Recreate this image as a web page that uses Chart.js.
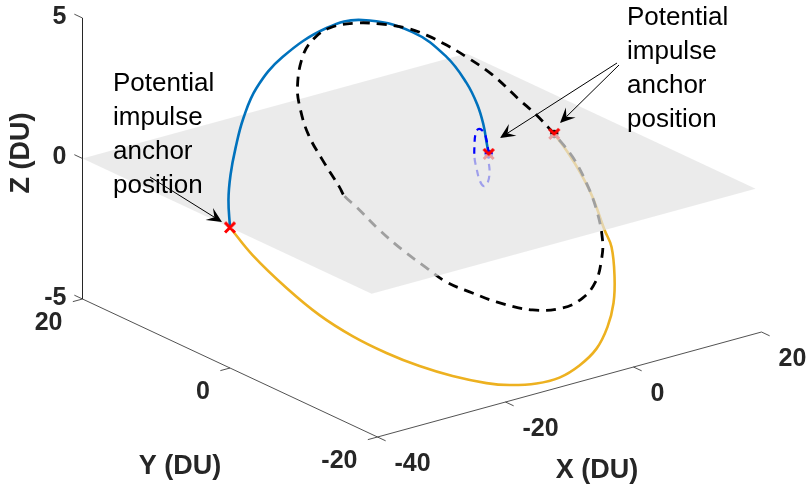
<!DOCTYPE html>
<html lang="en">
<head>
<meta charset="UTF-8" />
<title>Impulse anchor positions</title>
<style>
  body { margin: 0; background: #fff; }
  canvas { display: block; }
</style>
</head>
<body>
<canvas id="orbitChart" width="808" height="494"></canvas>
<script src="https://cdn.jsdelivr.net/npm/chart.js"></script>
<script>
// axis ticks (DU)
const xTicks = [-40, -20, 0, 20];
const yTicks = [-20, 0, 20];
const zTicks = [-5, 0, 5];

// z = 0 plane extent
const planeX = [-40, 20];
const planeY = [-19.2, 20];

// solid blue arc (above the plane)
const blueX = [-40, -39.03, -37.65, -35.75, -33.30, -30.12, -25.02, -17.40, -11.86, -5.16, -1.34, 0.42, 1.05, 1.05, 0.75, 1.0];
const blueY = [0, 1.05, 1.97, 2.94, 3.99, 4.98, 5.88, 6.52, 6.45, 5.49, 4.19, 3.01, 2.07, 1.25, 0.58, 0.5];
const blueZ = [0, 0.79, 1.48, 2.20, 2.99, 3.74, 4.41, 4.89, 4.84, 4.11, 3.15, 2.26, 1.55, 0.94, 0.43, 0];

// solid orange arc (below the plane)
const orangeX = [-40, -39.45, -37.87, -35.90, -33.40, -30.41, -27.19, -23.71, -19.84, -16.98, -13.28, -9.71, -6.01, -2.26, 1.09, 4.00, 6.43, 8.68, 9.26, 10.58, 11.12, 11.25, 11.7];
const orangeY = [0, -2.58, -5.82, -8.58, -10.88, -12.89, -14.58, -16.04, -17.29, -17.92, -18.37, -18.39, -17.89, -16.95, -15.53, -13.82, -11.85, -9.49, -8.04, -5.26, -3.17, -1.29, 0.9];
const orangeZ = [0, -0.70, -1.57, -2.32, -2.94, -3.48, -3.94, -4.33, -4.67, -4.84, -4.96, -4.97, -4.83, -4.58, -4.19, -3.73, -3.20, -2.56, -2.17, -1.42, -0.86, -0.35, 0];

// dashed black orbit (closed)
const blackX = [11.7, 9.20, 7.45, 4.72, 1.80, -0.52, -2.94, -5.49, -9.19, -12.44, -16.55, -19.55, -21.76, -23.86, -24.48, -24.47, -23.62, -22.41, -22.1, -20.88, -18.63, -16.24, -13.62, -11.38, -8.15, -5.12, -0.30, 4.09, 7.43, 10.03, 11.90, 12.96, 13.48, 13.27, 12.46, 11.7];
const blackY = [0.9, 1.14, 1.92, 3.21, 4.21, 4.91, 5.52, 6.02, 6.47, 6.76, 6.85, 6.56, 5.99, 4.86, 3.91, 2.83, 1.68, 0.42, 0, -0.56, -1.73, -2.77, -3.75, -4.52, -5.24, -5.86, -6.57, -6.82, -6.64, -6.14, -5.33, -4.55, -3.29, -2.11, -0.92, 0.9];
const blackZ = [0, 0.80, 1.35, 2.25, 2.95, 3.43, 3.86, 4.21, 4.53, 4.73, 4.80, 4.59, 4.20, 3.40, 2.74, 1.98, 1.18, 0.29, 0, -0.39, -1.21, -1.94, -2.62, -3.17, -3.67, -4.10, -4.60, -4.77, -4.65, -4.30, -3.73, -3.18, -2.30, -1.48, -0.64, 0];

// small dashed blue loop (closed)
const loopX = [1.0, 0.66, 0.19, -0.59, -1.06, -1.22, -1.22, -0.91, -0.44, 0.19, 0.81, 1.13, 0.97, 1.0];
const loopY = [0.5, 0.5, 0.5, 0.5, 0.5, 0.5, 0.5, 0.5, 0.5, 0.5, 0.5, 0.5, 0.5, 0.5];
const loopZ = [0, 0.52, 0.84, 0.99, 0.84, 0.46, 0, -0.38, -0.83, -1.09, -1.02, -0.65, -0.21, 0];

// potential impulse anchors
const anchorX = [-40, 1.0, 11.7];
const anchorY = [0, 0.5, 0.9];
const anchorZ = [0, 0, 0];

const annotationLines = ['Potential', 'impulse', 'anchor', 'position'];

// 3D view: screen spot of the (xmin, ymin, zmin) corner and step per DU along each axis
const view = { ox: 377.5, oy: 437, ex: [6.4, -1.75], ey: [-7.375, -3.45], ez: [0, -28.1] };

function project(X, Y, Z) {
  const dx = X - xTicks[0], dy = Y - yTicks[0], dz = Z - zTicks[0];
  return {
    x: view.ox + dx * view.ex[0] + dy * view.ey[0] + dz * view.ez[0],
    y: view.oy + dx * view.ex[1] + dy * view.ey[1] + dz * view.ez[1],
    z: Z
  };
}
function pts(xs, ys, zs) {
  return xs.map((x, i) => project(x, ys[i], zs[i]));
}

const bluePts = pts(blueX, blueY, blueZ);
const orangePts = pts(orangeX, orangeY, orangeZ);
const blackPts = pts(blackX, blackY, blackZ);
const loopPts = pts(loopX, loopY, loopZ);
const anchorPts = pts(anchorX, anchorY, anchorZ);
const xMin = xTicks[0], xMax = xTicks[xTicks.length - 1];
const yMin = yTicks[0], yMax = yTicks[yTicks.length - 1];
const zMin = zTicks[0], zMax = zTicks[zTicks.length - 1];
const planePts = pts(
  [planeX[0], planeX[1], planeX[1], planeX[0], planeX[0]],
  [planeY[0], planeY[0], planeY[1], planeY[1], planeY[0]],
  [0, 0, 0, 0, 0]
);
const axisPts = pts([xMin, xMin, xMin, xMax], [yMax, yMax, yMin, yMin], [zMax, zMin, zMin, zMin]);

// show only the part of a curve on one side of the plane
function side(points, above) {
  return {
    borderColor: c => {
      const z0 = points[c.p0DataIndex].z, z1 = points[c.p1DataIndex].z;
      const show = above ? (z0 >= 0 && z1 >= 0) : (z0 <= 0 && z1 <= 0);
      return show ? undefined : 'rgba(0,0,0,0)';
    }
  };
}
function curve(points, color, width, dash, above, order) {
  return {
    data: points, borderColor: color, borderWidth: width, borderDash: dash,
    tension: 0.4, pointRadius: 0, fill: false, order: order,
    segment: side(points, above)
  };
}

// upper half of a marker (the lower half sits under the plane)
function halfMarker(kind, color) {
  const cv = document.createElement('canvas');
  cv.width = 18; cv.height = 18;
  const g = cv.getContext('2d');
  g.strokeStyle = color; g.fillStyle = color;
  if (kind === 'x') {
    g.lineWidth = 3;
    g.beginPath();
    g.moveTo(4, 4); g.lineTo(9, 9); g.lineTo(14, 4);
    g.stroke();
  } else {
    g.beginPath();
    g.arc(9, 9, 4, Math.PI, 2 * Math.PI);
    g.closePath();
    g.fill();
  }
  return cv;
}

const labelFont = 'bold 27px "Liberation Sans", Arial, sans-serif';
const tickFont = 'bold 25px "Liberation Sans", Arial, sans-serif';
const noteFont = '26px "Liberation Sans", Arial, sans-serif';
const axisColor = '#262626';

const axes3d = {
  id: 'axes3d',
  afterDatasetsDraw(chart) {
    const c = chart.ctx;
    const sx = chart.scales.x, sy = chart.scales.y;
    const px = p => ({ x: sx.getPixelForValue(p.x), y: sy.getPixelForValue(p.y) });
    const dir = (a, b) => {
      const p = px(a), q = px(b);
      const l = Math.hypot(q.x - p.x, q.y - p.y);
      return [(q.x - p.x) / l, (q.y - p.y) / l];
    };
    c.save();
    c.strokeStyle = axisColor;
    c.lineWidth = 0.8;
    c.fillStyle = axisColor;
    c.font = tickFont;

    // Z axis
    let u = dir(project(xMin, 0, 0), project(xMin, 1, 0));
    zTicks.forEach(z => {
      const p = px(project(xMin, yMax, z));
      c.beginPath(); c.moveTo(p.x, p.y); c.lineTo(p.x + 9 * u[0], p.y + 9 * u[1]); c.stroke();
      c.textAlign = 'right'; c.textBaseline = 'middle';
      c.fillText(String(z), p.x - 16, p.y - 1);
    });
    // Y axis
    u = dir(project(0, 0, 0), project(-1, 0, 0));
    yTicks.forEach(y => {
      const p = px(project(xMin, y, zMin));
      c.beginPath(); c.moveTo(p.x, p.y); c.lineTo(p.x + 10 * u[0], p.y + 10 * u[1]); c.stroke();
      c.textAlign = 'right'; c.textBaseline = 'top';
      c.fillText(String(y), p.x - 20, p.y + 12);
    });
    // X axis
    u = dir(project(0, 0, 0), project(0, -1, 0));
    xTicks.forEach(x => {
      const p = px(project(x, yMin, zMin));
      c.beginPath(); c.moveTo(p.x, p.y); c.lineTo(p.x + 9 * u[0], p.y + 9 * u[1]); c.stroke();
      c.textAlign = 'left'; c.textBaseline = 'top';
      c.fillText(String(x), p.x + 17, p.y + 15);
    });

    // axis titles
    c.font = labelFont;
    c.textAlign = 'center'; c.textBaseline = 'middle';
    c.fillText('X (DU)', 597, 471);
    c.fillText('Y (DU)', 180, 467);
    c.save();
    c.translate(22, 153);
    c.rotate(-Math.PI / 2);
    c.fillText('Z (DU)', 0, 0);
    c.restore();

    // annotations
    c.fillStyle = '#000';
    c.strokeStyle = '#000';
    c.font = noteFont;
    c.textAlign = 'left'; c.textBaseline = 'alphabetic';
    annotationLines.forEach((t, i) => {
      c.fillText(t, 113, 91 + i * 34);
      c.fillText(t, 627, 25 + i * 34);
    });
    const arrows = [[150, 177, 222, 222], [617, 63, 500, 138], [619, 65, 560, 123]];
    arrows.forEach(([x0, y0, x1, y1]) => {
      const l = Math.hypot(x1 - x0, y1 - y0);
      const ux = (x1 - x0) / l, uy = (y1 - y0) / l;
      const L = 15, W = 7;
      c.lineWidth = 1;
      c.beginPath(); c.moveTo(x0, y0); c.lineTo(x1 - ux * L * 0.6, y1 - uy * L * 0.6); c.stroke();
      c.beginPath();
      c.moveTo(x1, y1);
      c.lineTo(x1 - ux * L - uy * W, y1 - uy * L + ux * W);
      c.lineTo(x1 - ux * L * 0.6, y1 - uy * L * 0.6);
      c.lineTo(x1 - ux * L + uy * W, y1 - uy * L - ux * W);
      c.closePath();
      c.fill();
    });
    c.restore();
  }
};

new Chart(document.getElementById('orbitChart').getContext('2d'), {
  type: 'line',
  data: {
    datasets: [
      // markers: upper halves above the plane
      { data: anchorPts, showLine: false, pointStyle: halfMarker('x', '#FF0000'), order: 0 },
      { data: [anchorPts[1]], showLine: false, pointStyle: halfMarker('o', '#0000FF'), order: 1 },
      { data: [anchorPts[2]], showLine: false, pointStyle: halfMarker('o', '#000000'), order: 1 },
      curve(blackPts, '#000000', 2.8, [10, 7], true, 2),
      curve(loopPts, '#0000FF', 2.2, [7, 5], true, 3),
      curve(bluePts, '#0072BD', 2.6, [], true, 4),
      { data: planePts, borderWidth: 0, borderColor: 'rgba(0,0,0,0)', pointRadius: 0,
        tension: 0, fill: 'shape', backgroundColor: 'rgba(227,227,227,0.7)', order: 5 },
      // markers: full shapes under the plane
      { data: anchorPts, showLine: false, pointStyle: 'crossRot', pointRadius: 7,
        pointBorderColor: '#FF0000', pointBorderWidth: 3, order: 6 },
      { data: [anchorPts[1]], showLine: false, pointStyle: 'circle', pointRadius: 4,
        pointBackgroundColor: '#0000FF', pointBorderColor: '#0000FF', order: 6 },
      { data: [anchorPts[2]], showLine: false, pointStyle: 'circle', pointRadius: 4,
        pointBackgroundColor: '#000', pointBorderColor: '#000', order: 6 },
      curve(blackPts, '#000000', 2.8, [10, 7], false, 7),
      curve(loopPts, '#0000FF', 2.2, [7, 5], false, 8),
      curve(orangePts, '#EDB120', 2.6, [], false, 9),
      { data: axisPts, borderColor: axisColor, borderWidth: 0.8, pointRadius: 0,
        tension: 0, fill: false, order: 10 }
    ]
  },
  options: {
    responsive: false,
    animation: false,
    layout: { padding: 0, autoPadding: false },
    scales: {
      x: { type: 'linear', display: false, min: 0, max: 808 },
      y: { type: 'linear', display: false, min: 0, max: 494, reverse: true }
    },
    plugins: { legend: { display: false }, tooltip: { enabled: false } }
  },
  plugins: [axes3d]
});
</script>
</body>
</html>
